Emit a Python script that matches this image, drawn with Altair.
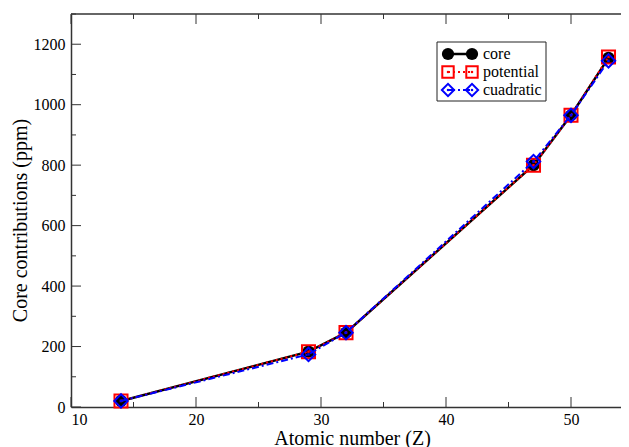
import altair as alt
import pandas as pd

# ---- data ----
Z = [14, 29, 32, 47, 50, 53]
core = [20, 183, 246, 800, 965, 1155]
potential = [20, 183, 246, 800, 965, 1158]
cuadratic = [20, 174, 246, 812, 965, 1145]

series_names = ["core", "potential", "cuadratic"]
series_values = [core, potential, cuadratic]
series_colors = ["#000000", "#ff0000", "#0000ff"]

x_major = [10, 20, 30, 40, 50]
x_minor = [15, 25, 35, 45, 55]
y_major = [0, 200, 400, 600, 800, 1000, 1200]
y_minor = [100, 300, 500, 700, 900, 1100, 1300]

FONT = "Liberation Serif"
W_RANGE = 562.5   # full x range (right frame lies just outside the window)
W = 550
H = 393

xs = alt.Scale(domain=[10, 55], range=[0, W_RANGE])
ys = alt.Scale(domain=[0, 1300])

line_styles = {
    "core": dict(strokeWidth=2.5),
    "potential": dict(strokeWidth=2, strokeDash=[2, 3]),
    "cuadratic": dict(strokeWidth=2, strokeDash=[7, 3, 2, 3]),
}

layers = []

# ---- tick marks (inward, on all four sides) ----
def xticks(vals, length):
    d = pd.DataFrame({"v": vals})
    b = alt.Chart(d).mark_rule(color="#333", strokeWidth=1)
    bottom = b.encode(x=alt.X("v:Q", scale=xs), y=alt.value(H), y2=alt.value(H - length))
    top = b.encode(x=alt.X("v:Q", scale=xs), y=alt.value(0), y2=alt.value(length))
    return [bottom, top]

def yticks(vals, length):
    d = pd.DataFrame({"v": vals})
    b = alt.Chart(d).mark_rule(color="#333", strokeWidth=1)
    left = b.encode(y=alt.Y("v:Q", scale=ys), x=alt.value(0), x2=alt.value(length))
    right = b.encode(y=alt.Y("v:Q", scale=ys), x=alt.value(W_RANGE), x2=alt.value(W_RANGE - length))
    return [left, right]

layers += xticks(x_major, 10) + xticks(x_minor, 5) + yticks(y_major, 10) + yticks(y_minor, 5)

# top frame line
frame_df = pd.DataFrame({"k": [0]})
layers.append(alt.Chart(frame_df).mark_rule(color="#333", strokeWidth=1.5).encode(
    x=alt.value(0), x2=alt.value(W_RANGE), y=alt.value(0)))

# ---- data series ----
for name, vals, col in zip(series_names, series_values, series_colors):
    df = pd.DataFrame({"Z": Z, "v": vals})
    base = alt.Chart(df).encode(
        x=alt.X("Z:Q", scale=xs,
                axis=alt.Axis(values=x_major, format="d", title="Atomic number (Z)", titleY=31,
                              titleBaseline="middle", titleX=281)),
        y=alt.Y("v:Q", scale=ys,
                axis=alt.Axis(values=y_major, format="d", title="Core contributions (ppm)",
                              titleY=206, titleX=-51, titleAngle=-90,
                              titleBaseline="middle", titleAlign="center")),
    )
    layers.append(base.mark_line(color=col, **line_styles[name]))
    if name == "core":
        layers.append(base.mark_point(shape="circle", filled=True, color=col, size=150, opacity=1))
    elif name == "potential":
        layers.append(base.mark_point(shape="square", filled=False, color=col, size=170, strokeWidth=2, opacity=1))
        layers.append(base.mark_point(shape="square", filled=True, color=col, size=6, opacity=1))
    else:
        layers.append(base.mark_point(shape="diamond", filled=False, color=col, size=180, strokeWidth=2, opacity=1))
        layers.append(base.mark_point(shape="square", filled=True, color=col, size=6, opacity=1))

# ---- legend box ----
legend_rows_y = [40, 58, 76]
box = alt.Chart(frame_df).mark_rect(fill="white", stroke="#222", strokeWidth=1).encode(
    x=alt.value(366), x2=alt.value(475), y=alt.value(28), y2=alt.value(87))
layers.append(box)

for name, col, ry in zip(series_names, series_colors, legend_rows_y):
    one = pd.DataFrame({"label": [name]})
    c = alt.Chart(one)
    layers.append(c.mark_rule(color=col, **line_styles[name]).encode(
        x=alt.value(377), x2=alt.value(401), y=alt.value(ry)))
    for mx in (377, 401):
        if name == "core":
            layers.append(c.mark_point(shape="circle", filled=True, color=col, size=150, opacity=1).encode(
                x=alt.value(mx), y=alt.value(ry)))
        elif name == "potential":
            layers.append(c.mark_point(shape="square", filled=False, color=col, size=130, strokeWidth=2, opacity=1).encode(
                x=alt.value(mx), y=alt.value(ry)))
            layers.append(c.mark_point(shape="square", filled=True, color=col, size=5, opacity=1).encode(
                x=alt.value(mx), y=alt.value(ry)))
        else:
            layers.append(c.mark_point(shape="diamond", filled=False, color=col, size=150, strokeWidth=2, opacity=1).encode(
                x=alt.value(mx), y=alt.value(ry)))
            layers.append(c.mark_point(shape="square", filled=True, color=col, size=5, opacity=1).encode(
                x=alt.value(mx), y=alt.value(ry)))
    layers.append(c.mark_text(align="left", baseline="middle", font=FONT, fontSize=16, color="black").encode(
        x=alt.value(412), y=alt.value(ry), text="label:N"))

chart = alt.layer(*layers).properties(
    width=W, height=H,
    autosize=alt.AutoSizeParams(type="none"),
    padding={"left": 63, "top": 6, "right": 0, "bottom": 40},
).configure_view(stroke=None).configure_axis(
    ticks=False, grid=False, domain=True, domainColor="#333", domainWidth=1.5,
    labelFont=FONT, labelFontSize=16, labelColor="black", labelPadding=6,
    titleFont=FONT, titleFontSize=20, titleFontWeight="normal", titleColor="black",
).configure_axisX(labelPadding=4)

chart.save("out.html", embed_options={"renderer": "svg", "actions": False})
